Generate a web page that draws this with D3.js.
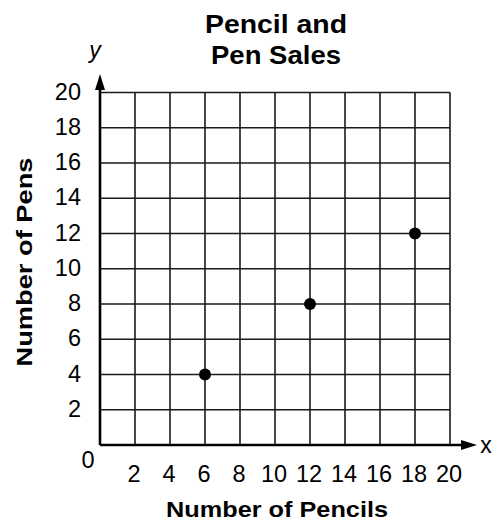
<!DOCTYPE html>
<html>
<head>
<meta charset="utf-8">
<script src="https://cdn.jsdelivr.net/npm/d3@7"></script>
<style>
  body { margin: 0; background: #fff; }
  svg { font-family: "Liberation Sans", Arial, sans-serif; }
</style>
</head>
<body>
<svg id="chart" width="492" height="521"></svg>
<script>
const pencils = [6, 12, 18];
const pens = [4, 8, 12];
const xTicks = [2, 4, 6, 8, 10, 12, 14, 16, 18, 20];
const yTicks = [2, 4, 6, 8, 10, 12, 14, 16, 18, 20];
const titleLines = ["Pencil and", "Pen Sales"];

const svg = d3.select("#chart");
const x = d3.scaleLinear().domain([0, 20]).range([100, 450]);
const y = d3.scaleLinear().domain([0, 20]).range([445, 92.5]);

// grid
const grid = svg.append("g").attr("stroke", "#1a1a1a").attr("stroke-width", 1.6);
grid.selectAll("line.v").data(xTicks).join("line")
    .attr("x1", d => x(d)).attr("x2", d => x(d))
    .attr("y1", y(0)).attr("y2", y(20));
grid.selectAll("line.h").data(yTicks).join("line")
    .attr("x1", x(0)).attr("x2", x(20))
    .attr("y1", d => y(d)).attr("y2", d => y(d));

// axes with arrows
svg.append("line").attr("x1", x(0)).attr("x2", 470).attr("y1", y(0)).attr("y2", y(0))
    .attr("stroke", "#000").attr("stroke-width", 2.6);
svg.append("line").attr("x1", x(0)).attr("x2", x(0)).attr("y1", y(0)).attr("y2", 80)
    .attr("stroke", "#000").attr("stroke-width", 2.6);
svg.append("path").attr("d", `M${x(0)},74 L${x(0) - 5},90 L${x(0) + 5},90 Z`).attr("fill", "#000");
svg.append("path").attr("d", `M477,${y(0)} L461,${y(0) - 5} L461,${y(0) + 5} Z`).attr("fill", "#000");

svg.append("text").attr("x", 95).attr("y", 58).attr("text-anchor", "middle")
    .attr("font-size", 23).attr("font-style", "italic").text("y");
svg.append("text").attr("x", 486).attr("y", 453).attr("text-anchor", "middle")
    .attr("font-size", 23).text("x");

// tick labels
svg.append("g").selectAll("text").data(xTicks).join("text")
    .attr("x", d => x(d) - 1).attr("y", 482)
    .attr("text-anchor", "middle").attr("font-size", 23.5).text(d => d);
svg.append("g").selectAll("text").data(yTicks).join("text")
    .attr("x", 81).attr("y", d => y(d) + 7)
    .attr("text-anchor", "end").attr("font-size", 23.5).text(d => d);
svg.append("text").attr("x", 88).attr("y", 468).attr("text-anchor", "middle")
    .attr("font-size", 23.5).text("0");

// points
svg.append("g").selectAll("circle").data(pencils).join("circle")
    .attr("cx", d => x(d)).attr("cy", (d, i) => y(pens[i])).attr("r", 6).attr("fill", "#000");

// title and axis titles
svg.append("g").selectAll("text").data(titleLines).join("text")
    .attr("x", 276).attr("y", (d, i) => 33 + i * 31)
    .attr("text-anchor", "middle").attr("font-size", 25).attr("font-weight", "bold")
    .attr("textLength", (d, i) => i === 0 ? 142 : 130).attr("lengthAdjust", "spacingAndGlyphs")
    .text(d => d);
svg.append("text").attr("x", 277).attr("y", 517).attr("text-anchor", "middle")
    .attr("font-size", 21.5).attr("font-weight", "bold")
    .attr("textLength", 222).attr("lengthAdjust", "spacingAndGlyphs").text("Number of Pencils");
svg.append("text").attr("transform", "translate(32,262) rotate(-90)").attr("text-anchor", "middle")
    .attr("font-size", 21.5).attr("font-weight", "bold")
    .attr("textLength", 209).attr("lengthAdjust", "spacingAndGlyphs").text("Number of Pens");
</script>
</body>
</html>
